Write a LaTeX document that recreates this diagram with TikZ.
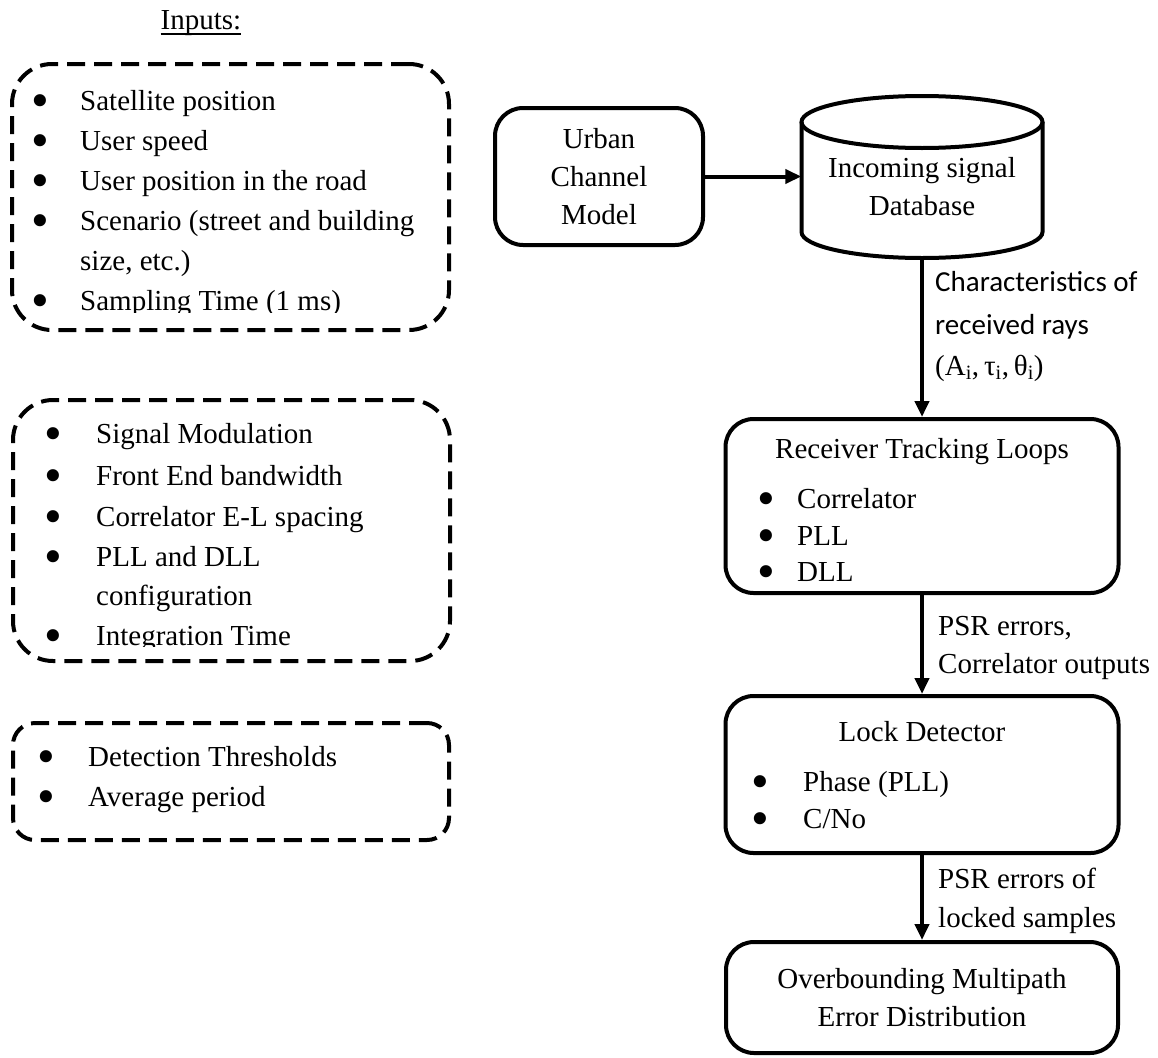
\documentclass[tikz,border=0pt]{standalone}
\usepackage{fontspec}
\setmainfont{Liberation Serif}
\newfontfamily\calfont{Carlito}
\usetikzlibrary{arrows.meta}
\newcommand{\bult}[1]{\llap{\smash{\raisebox{-7pt}{\scalebox{1.75}{\textbullet}}}\hspace{#1pt}}}

\begin{document}
\begin{tikzpicture}[
    x=1pt, y=-1pt,
    box/.style={draw, line width=4pt, rounded corners=28pt, inner sep=0pt, align=center, font=\fontsize{29}{38}\selectfont},
    dbox/.style={draw, line width=4pt, dash pattern=on 18pt off 9pt, rounded corners=40pt, inner sep=0pt},
    txt/.style={inner sep=0pt, anchor=base west, font=\fontsize{29}{38}\selectfont},
    cal/.style={inner sep=0pt, anchor=base west, font=\calfont\fontsize{29}{43}\selectfont},
    arr/.style={line width=4pt, -{Triangle[length=16pt,width=14pt]}},
]
  \useasboundingbox (0,0) rectangle (1158,1057);

  % inputs
  \node [txt, anchor=base]  (in) at (201,30)      {Inputs:};
  \draw [line width=1.5pt]  ([yshift=-4pt]in.base west) -- ([yshift=-4pt]in.base east);

  \node [dbox, minimum width=437, minimum height=266]  (p) at (230.5,197)   {};
  \node [txt]  (p1) at (80,110)  {\bult{31}Satellite position};
  \node [txt]  (p2) at (80,150)  {\bult{31}User speed};
  \node [txt]  (p3) at (80,190)  {\bult{31}User position in the road};
  \node [txt]  (p4) at (80,230)  {\bult{31}Scenario (street and building};
  \node [txt]  (p5) at (80,270)  {size, etc.)};
  \begin{scope}
    \clip (0,250) rectangle (460,312);
    \node [txt]  (p6) at (80,310)  {\bult{31}Sampling Time (1 ms)};
  \end{scope}

  \node [dbox, minimum width=437, minimum height=261]  (q) at (231.5,530.5) {};
  \node [txt]  (q1) at (96,443)  {\bult{34}Signal Modulation};
  \node [txt]  (q2) at (96,485)  {\bult{34}Front End bandwidth};
  \node [txt]  (q3) at (96,526)  {\bult{34}Correlator E-L spacing};
  \node [txt]  (q4) at (96,566)  {\bult{34}PLL and DLL};
  \node [txt]  (q5) at (96,605)  {configuration};
  \begin{scope}
    \clip (0,600) rectangle (460,646);
    \node [txt]  (q6) at (96,645)  {\bult{34}Integration Time};
  \end{scope}

  \node [dbox, rounded corners=22pt, minimum width=436, minimum height=117]  (r) at (231,781.5) {};
  \node [txt]  (r1) at (88,766)  {\bult{33}Detection Thresholds};
  \node [txt]  (r2) at (88,806)  {\bult{33}Average period};

  % processing chain
  \node [box, minimum width=208, minimum height=137]  (u) at (599,176.5)  {Urban\\Channel\\Model};
  \node [inner sep=0pt, minimum width=241, minimum height=162]  (d) at (922,177)  {};
  \draw [line width=4pt] (922,122) ellipse [x radius=120.5, y radius=26];
  \draw [line width=4pt] (801.5,122) -- (801.5,232)
        arc [start angle=180, end angle=0, x radius=120.5, y radius=26] -- (1042.5,122);
  \node [align=center, inner sep=0pt, font=\fontsize{29}{38}\selectfont]  (dt) at (922,187)  {Incoming signal\\Database};

  \node [box, minimum width=393, minimum height=174]  (t) at (922,506)  {};
  \node [txt, anchor=base]  (t0) at (922,458)  {Receiver Tracking Loops};
  \node [txt]  (t1) at (797,508)  {\bult{22}Correlator};
  \node [txt]  (t2) at (797,545)  {\bult{22}PLL};
  \node [txt]  (t3) at (797,581)  {\bult{22}DLL};

  \node [box, minimum width=393, minimum height=157]  (l) at (922,774.5)  {};
  \node [txt, anchor=base]  (l0) at (922,741)  {Lock Detector};
  \node [txt]  (l1) at (803,791)  {\bult{34}Phase (PLL)};
  \node [txt]  (l2) at (803,828)  {\bult{34}C/No};

  \node [box, minimum width=392, minimum height=111]  (o) at (922,997.5)  {Overbounding Multipath\\Error Distribution};

  % connectors
  \draw [arr] (u.east) -- (u.east -| d.west);
  \draw [arr] (d.south) -- (t.north);
  \draw [arr] (t.south) -- (l.north);
  \draw [arr] (l.south) -- (o.north);

  % connector labels
  \node [cal]  (k1) at (935,291)  {Characteristics of};
  \node [cal]  (k2) at (935,334)  {received rays};
  \node [cal]  (k3) at (935,375)  {\rmfamily(A\textsubscript{i},\,τ\textsubscript{i},\,θ\textsubscript{i})};
  \node [txt]  (m1) at (938,635)  {PSR errors,};
  \node [txt]  (m2) at (938,673)  {Correlator outputs};
  \node [txt]  (n1) at (938,888)  {PSR errors of};
  \node [txt]  (n2) at (938,927)  {locked samples};
\end{tikzpicture}
\end{document}
